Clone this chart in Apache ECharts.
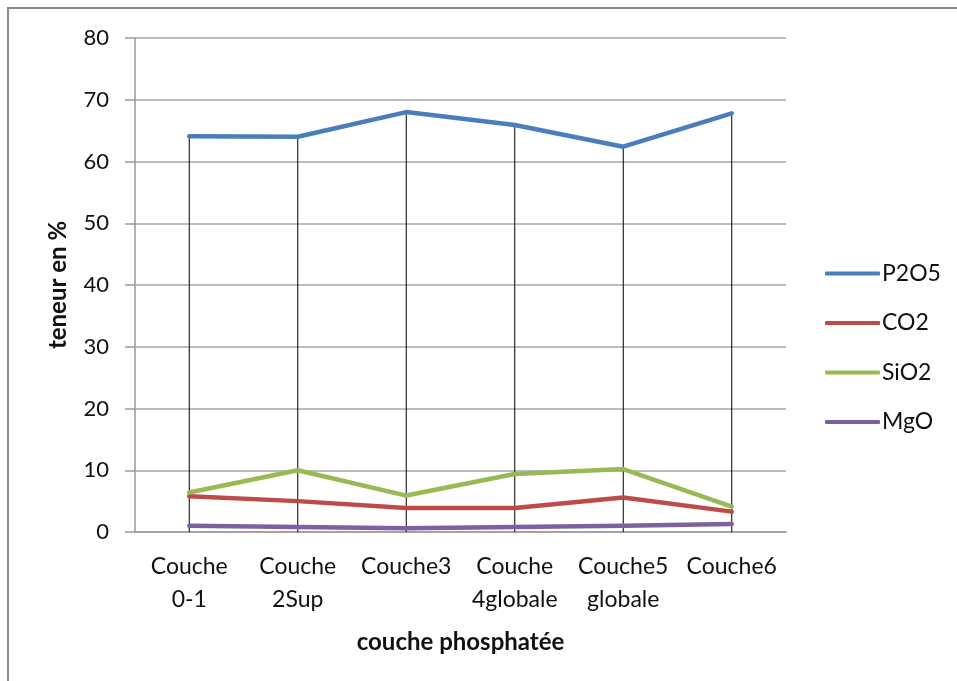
<!DOCTYPE html>
<html>
<head>
<meta charset="utf-8">
<script src="https://cdn.jsdelivr.net/npm/echarts@6/dist/echarts.min.js"></script>
<style>
  html, body { margin: 0; padding: 0; background: #fff; }
  #chart { width: 957px; height: 681px; }
</style>
</head>
<body>
<div id="chart"></div>
<script>
// Couches phosphatées et teneurs (%) mesurées
const categories = ['Couche\n0-1', 'Couche\n2Sup', 'Couche3', 'Couche\n4globale', 'Couche5\nglobale', 'Couche6'];
const p2o5 = [64.1, 64.0, 68.0, 65.9, 62.4, 67.8];
const co2  = [5.8, 5.0, 3.9, 3.9, 5.6, 3.3];
const sio2 = [6.4, 10.0, 5.9, 9.4, 10.2, 4.1];
const mgo  = [1.0, 0.8, 0.6, 0.8, 1.0, 1.3];
const yTicks = { min: 0, max: 80, step: 10 };

const FONT = 'Lato, "Noto Sans", sans-serif';
const TEXT = '#111';

const chart = echarts.init(document.getElementById('chart'), null, { renderer: 'canvas' });

function lineSeries(name, data, color) {
  return {
    name: name,
    type: 'line',
    data: data,
    symbol: 'none',
    z: 3,
    lineStyle: { color: color, width: 4.5, cap: 'round', join: 'round' },
    itemStyle: { color: color }
  };
}

chart.setOption({
  animation: false,
  backgroundColor: '#fff',
  graphic: [{
    type: 'rect',
    shape: { x: 8, y: 8, width: 1000, height: 1000 },
    style: { fill: 'none', stroke: '#8a8a8a', lineWidth: 2 },
    silent: true
  }],
  grid: { left: 135, right: 171, top: 38, bottom: 149 },
  legend: {
    orient: 'vertical',
    left: 820,
    top: 257,
    itemWidth: 55,
    itemHeight: 4,
    itemGap: 26.5,
    icon: 'roundRect',
    data: ['P2O5', 'CO2', 'SiO2', 'MgO'],
    textStyle: { fontFamily: FONT, fontSize: 23, color: TEXT, padding: [0, 0, 0, -3] }
  },
  xAxis: {
    type: 'category',
    data: categories,
    boundaryGap: true,
    name: 'couche phosphatée',
    nameLocation: 'middle',
    nameGap: 98,
    nameTextStyle: { fontFamily: FONT, fontSize: 24, fontWeight: 'bold', color: TEXT },
    axisLine: { show: true, lineStyle: { color: '#9a9a9a', width: 1.5 } },
    axisTick: { show: false },
    axisLabel: {
      fontFamily: FONT, fontSize: 23, color: TEXT,
      lineHeight: 33, margin: 18, interval: 0
    },
    splitLine: { show: false }
  },
  yAxis: {
    type: 'value',
    min: yTicks.min,
    max: yTicks.max,
    interval: yTicks.step,
    name: 'teneur en %',
    nameLocation: 'middle',
    nameGap: 65,
    nameTextStyle: { fontFamily: FONT, fontSize: 24, fontWeight: 'bold', color: TEXT },
    axisLine: { show: true, lineStyle: { color: '#9a9a9a', width: 1.5 } },
    axisTick: { show: true, inside: false, length: 10, lineStyle: { color: '#9a9a9a', width: 1.5 } },
    axisLabel: { fontFamily: FONT, fontSize: 22, color: TEXT, margin: 26 },
    splitLine: { show: true, lineStyle: { color: '#a6a6a6', width: 1.5 } }
  },
  series: [
    {
      // drop lines from the top series down to the category axis
      name: 'drop',
      type: 'bar',
      data: p2o5,
      barWidth: 1,
      z: 2,
      silent: true,
      itemStyle: { color: '#000' }
    },
    lineSeries('P2O5', p2o5, '#4a7ebb'),
    lineSeries('CO2', co2, '#be4b48'),
    lineSeries('SiO2', sio2, '#98b954'),
    lineSeries('MgO', mgo, '#7d60a0')
  ]
});
</script>
</body>
</html>
